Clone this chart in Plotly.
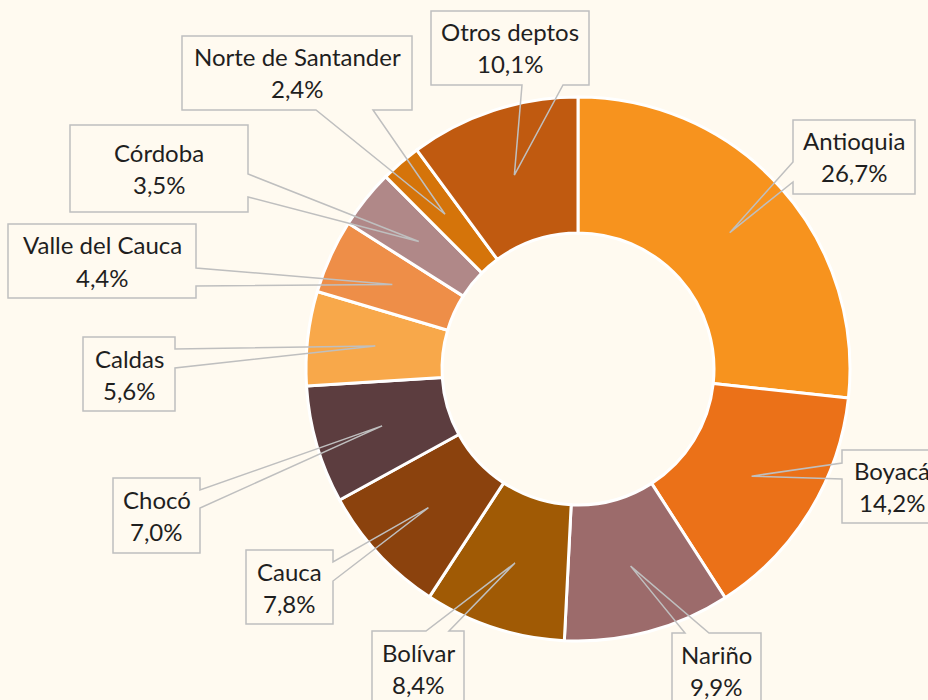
import math
import plotly.graph_objects as go

# datos: participación por departamento (%)
deptos = ["Antioquia", "Boyacá", "Nariño", "Bolívar", "Cauca", "Chocó", "Caldas",
          "Valle del Cauca", "Córdoba", "Norte de Santander", "Otros deptos"]
porcentajes = [26.7, 14.2, 9.9, 8.4, 7.8, 7.0, 5.6, 4.4, 3.5, 2.4, 10.1]
colores = ["#F7931E", "#EB7118", "#9C6B6B", "#A05A05", "#8B420D", "#5C3D3F",
           "#F8A84A", "#EE8E48", "#B08888", "#D5740A", "#C05A10"]

W, H = 928, 700
BG = "#FFFAF0"
CX, CY, R = 578, 369, 272
HOLE = 0.5

# cajas de etiqueta (px): x0, y0, x1, y1, lado del puntero, base1, base2
cajas = {
    "Antioquia": (793, 120, 915, 194, "left", 162, 182),
    "Boyacá": (842, 450, 942, 523, "left", 463, 479),
    "Nariño": (672, 633, 761, 707, "top", 685, 709),
    "Bolívar": (372, 631, 464, 705, "top", 426, 449),
    "Cauca": (246, 550, 333, 624, "right", 562, 581),
    "Chocó": (113, 478, 200, 553, "right", 490, 508),
    "Caldas": (83, 337, 175, 411, "right", 349, 368),
    "Valle del Cauca": (8, 224, 196, 298, "right", 268, 286),
    "Córdoba": (70, 125, 248, 212, "right", 174, 197),
    "Norte de Santander": (182, 36, 412, 110, "bottom", 316, 373),
    "Otros deptos": (431, 11, 589, 85, "bottom", 522, 563),
}


def px(x, y):
    return x / W, 1 - y / H


fig = go.Figure(go.Pie(
    labels=deptos, values=porcentajes, hole=HOLE, sort=False,
    direction="clockwise", rotation=0,
    marker=dict(colors=colores, line=dict(color="white", width=3)),
    textinfo="none", hoverinfo="label+percent",
    domain=dict(x=[(CX - R) / W, (CX + R) / W], y=[1 - (CY + R) / H, 1 - (CY - R) / H]),
))

shapes = []
annotations = []
total = sum(porcentajes)
acum = 0
r_tip = R * (1 + HOLE) / 2
for d, v in zip(deptos, porcentajes):
    ang = (acum + v / 2) / total * 2 * math.pi
    acum += v
    tx, ty = CX + r_tip * math.sin(ang), CY - r_tip * math.cos(ang)
    x0, y0, x1, y1, lado, b1, b2 = cajas[d]
    if lado == "top":
        pts = [(x0, y0), (b1, y0), (tx, ty), (b2, y0), (x1, y0), (x1, y1), (x0, y1)]
    elif lado == "right":
        pts = [(x0, y0), (x1, y0), (x1, b1), (tx, ty), (x1, b2), (x1, y1), (x0, y1)]
    elif lado == "bottom":
        pts = [(x0, y0), (x1, y0), (x1, y1), (b2, y1), (tx, ty), (b1, y1), (x0, y1)]
    else:
        pts = [(x0, y0), (x1, y0), (x1, y1), (x0, y1), (x0, b2), (tx, ty), (x0, b1)]
    path = "M " + " L ".join("%.5f,%.5f" % px(*p) for p in pts) + " Z"
    shapes.append(dict(type="path", path=path, xref="paper", yref="paper",
                       line=dict(color="#BFBFBF", width=1.5), fillcolor="rgba(0,0,0,0)"))
    mx, my = (x0 + x1) / 2, (y0 + y1) / 2
    pct = ("%.1f" % v).replace(".", ",") + "%"
    for txt, yy in [(d, my - 16), (pct, my + 16)]:
        ax, ay = px(mx, yy)
        annotations.append(dict(x=ax, y=ay, xref="paper", yref="paper", text=txt,
                                showarrow=False, xanchor="center", yanchor="middle",
                                font=dict(size=24, color="#1F1F1F")))

fig.update_layout(
    width=W, height=H, margin=dict(l=0, r=0, t=0, b=0),
    paper_bgcolor=BG, plot_bgcolor=BG, showlegend=False,
    font=dict(family="Lato, 'Noto Sans', sans-serif"),
    shapes=shapes, annotations=annotations,
)

# sin margen de página para que la figura ocupe toda la ventana
fig.write_html("out.html", config={"displayModeBar": False},
               post_script="document.body.style.margin='0';")
